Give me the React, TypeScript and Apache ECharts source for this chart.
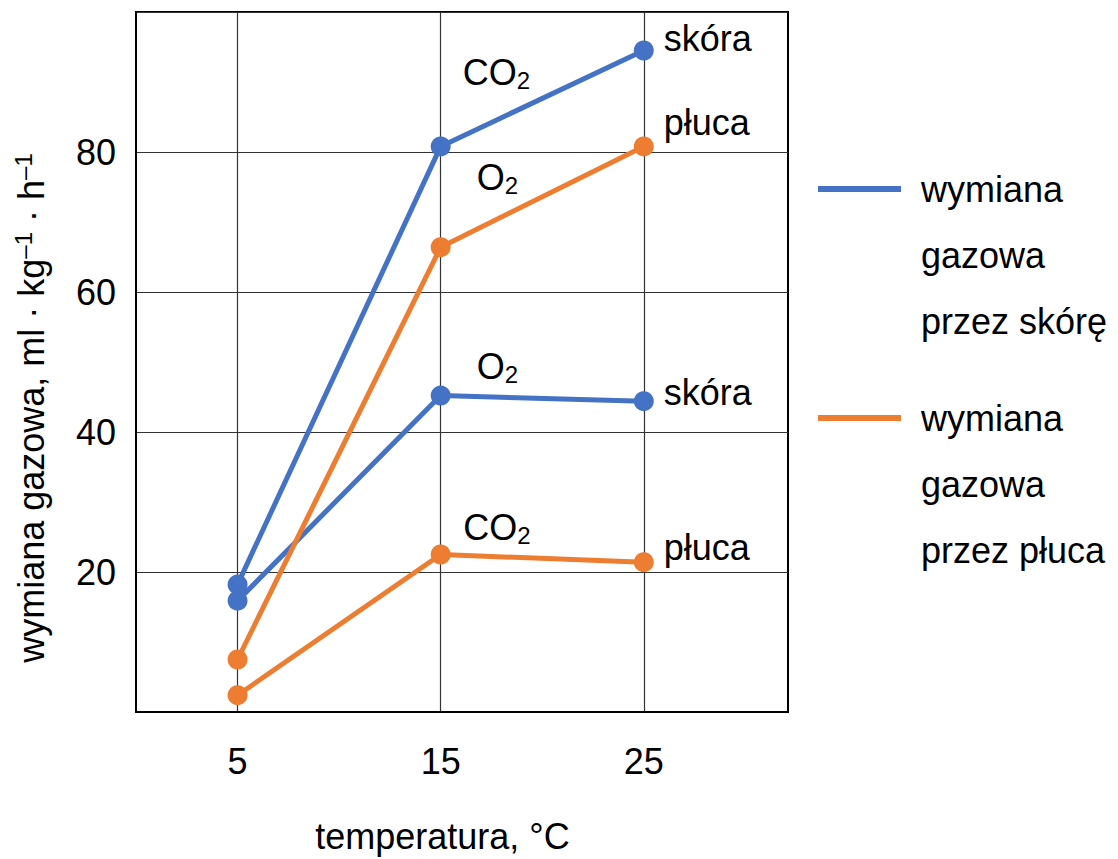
import React, { useEffect, useRef } from 'react';
import * as echarts from 'echarts';

const temperatures = [5, 15, 25];
const co2Skin = [18.2, 80.8, 94.5];
const o2Skin = [15.9, 45.2, 44.4];
const o2Lung = [7.5, 66.4, 80.8];
const co2Lung = [2.4, 22.5, 21.4];
const yTickLabels = [20, 40, 60, 80];
const xTickLabels = [5, 15, 25];
const legendSkin = 'wymiana\ngazowa\nprzez skórę';
const legendLung = 'wymiana\ngazowa\nprzez płuca';

const BLUE = '#4472C4';
const ORANGE = '#ED7D31';
const FONT = '"Liberation Sans", Arial, sans-serif';

const rich = {
  m: { fontSize: 36, lineHeight: 40, color: '#000', fontFamily: FONT },
  s: { fontSize: 24, lineHeight: 24, verticalAlign: 'bottom', color: '#000', fontFamily: FONT },
};

function makeSeries(
  name: string,
  color: string,
  values: number[],
  midText: string,
  midOffset: number[],
  endText: string,
  endOffset: number[]
) {
  return {
    type: 'line',
    name,
    color,
    symbol: 'circle',
    symbolSize: 20,
    lineStyle: { width: 5, color },
    itemStyle: { color },
    label: { show: false },
    data: values.map((v, i) => {
      const item: any = { value: [temperatures[i], v] };
      if (i === 1) {
        item.label = {
          show: true,
          position: 'right',
          distance: 0,
          offset: midOffset,
          formatter: midText,
          rich,
        };
      }
      if (i === 2) {
        item.label = {
          show: true,
          position: 'right',
          distance: 0,
          offset: endOffset,
          formatter: endText,
          fontSize: 36,
          color: '#000',
          fontFamily: FONT,
        };
      }
      return item;
    }),
  };
}

export default function App() {
  const ref = useRef<HTMLDivElement>(null);
  useEffect(() => {
    if (!ref.current) return;
    const chart = echarts.init(ref.current, null, { renderer: 'svg' });
    const option: any = {
      animation: false,
      backgroundColor: '#fff',
      textStyle: { fontFamily: FONT, color: '#000' },
      grid: {
        left: 136,
        right: 330,
        top: 12,
        bottom: 144,
        show: true,
        borderColor: '#000',
        borderWidth: 2,
        containLabel: false,
      },
      legend: {
        data: [legendSkin, legendLung],
        orient: 'vertical',
        left: 818,
        top: 24,
        padding: 0,
        itemGap: -101,
        icon: 'rect',
        itemWidth: 83,
        itemHeight: 6,
        selectedMode: false,
        formatter: (name: string) => '\n\n' + name,
        textStyle: {
          fontSize: 36,
          lineHeight: 66,
          color: '#000',
          fontFamily: FONT,
          padding: [0, 0, 0, 15],
        },
      },
      xAxis: {
        type: 'value',
        min: 0,
        max: 32.1,
        name: 'temperatura, °C',
        nameLocation: 'middle',
        nameGap: 106,
        nameTextStyle: { fontSize: 36, color: '#000', fontFamily: FONT, padding: [0, 39, 0, 0] },
        axisLine: { show: true, lineStyle: { color: '#000', width: 2 } },
        axisTick: { show: false, customValues: xTickLabels },
        axisLabel: {
          customValues: xTickLabels,
          fontSize: 36,
          color: '#000',
          margin: 31,
          fontFamily: FONT,
        },
        splitLine: { show: true, lineStyle: { color: '#333', width: 1.2 } },
      },
      yAxis: {
        type: 'value',
        min: 0,
        max: 100,
        interval: 20,
        name: '{m|wymiana gazowa, ml · kg}{t|–1}{m| · h}{t|–1}',
        nameLocation: 'middle',
        nameGap: 85,
        nameTextStyle: {
          fontSize: 36,
          color: '#000',
          fontFamily: FONT,
          padding: [0, 92, 0, 0],
          rich: {
            m: { fontSize: 36, lineHeight: 40, color: '#000', fontFamily: FONT },
            t: { fontSize: 24, lineHeight: 24, verticalAlign: 'top', color: '#000', fontFamily: FONT },
          },
        },
        axisLine: { show: true, lineStyle: { color: '#000', width: 2 } },
        axisTick: { show: false },
        axisLabel: {
          fontSize: 36,
          color: '#000',
          margin: 20,
          fontFamily: FONT,
          formatter: (v: number) => (yTickLabels.indexOf(v) >= 0 ? String(v) : ''),
        },
        splitLine: { show: true, lineStyle: { color: '#333', width: 1.2 } },
      },
      series: [
        makeSeries(legendSkin, BLUE, co2Skin, '{m|CO}{s|2}', [12, -73.5], 'skóra', [10, -11.8]),
        makeSeries(legendSkin, BLUE, o2Skin, '{m|O}{s|2}', [26, -29.2], 'skóra', [10, -9.2]),
        makeSeries(legendLung, ORANGE, o2Lung, '{m|O}{s|2}', [26, -69.8], 'płuca', [10, -23.5]),
        makeSeries(legendLung, ORANGE, co2Lung, '{m|CO}{s|2}', [12.5, -27.5], 'płuca', [10, -15]),
      ],
    };
    chart.setOption(option);
    return () => chart.dispose();
  }, []);
  return (
    <div
      ref={ref}
      style={{ position: 'fixed', left: 0, top: 0, width: 1118, height: 859 }}
    />
  );
}
